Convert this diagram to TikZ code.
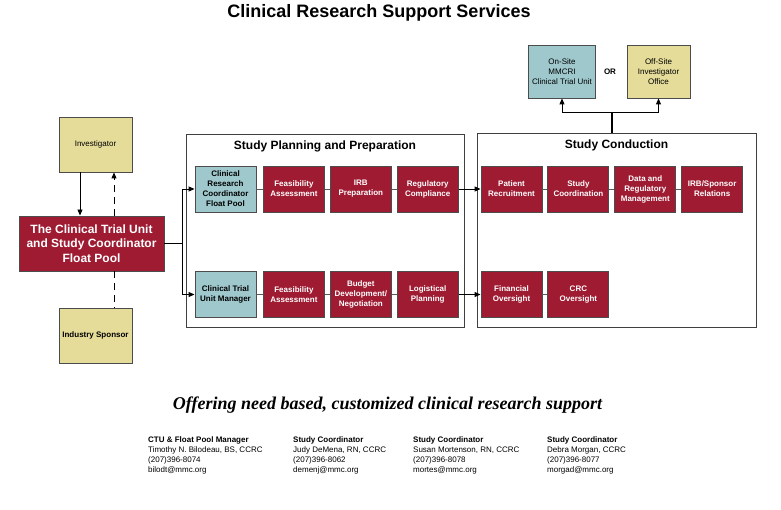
\documentclass[tikz,border=0pt]{standalone}
\usepackage{fontspec}
\setmainfont{Liberation Sans}
\newfontfamily\slogan{Liberation Serif}
\usetikzlibrary{positioning,arrows.meta}
\definecolor{crimson}{RGB}{158,27,50}
\definecolor{ctuteal}{RGB}{158,200,204}
\definecolor{sand}{RGB}{229,220,153}
\begin{document}
\begin{tikzpicture}[x=1pt,y=-1pt,
  task/.style={rectangle,draw=black!70,line width=0.9pt,fill=crimson,text=white,
    font=\fontsize{8}{10}\selectfont\bfseries,align=center,
    minimum width=61pt,minimum height=46pt,inner sep=1pt},
  lead/.style={task,fill=ctuteal,text=black},
  party/.style={rectangle,draw=black!70,line width=0.9pt,fill=sand,align=center,
    minimum width=73pt,minimum height=55pt,font=\fontsize{8}{10}\selectfont},
  site/.style={party,minimum width=66pt,minimum height=53pt},
  frame/.style={rectangle,draw=black!75,line width=0.9pt},
  head/.style={font=\fontsize{12}{14}\selectfont\bfseries},
  link/.style={draw=black!65,line width=0.9pt},
  arr/.style={-{Triangle[length=6pt,width=5pt]},line width=0.9pt},
  contact/.style={align=left,anchor=north west,inner sep=0pt,
    font=\fontsize{8}{9.7}\selectfont},
  node distance=5pt
]
  \useasboundingbox (0,0) rectangle (781,510);

  \node[font=\fontsize{18}{20}\selectfont\bfseries] (title) at (379,13) {Clinical Research Support Services};

  \node[party] (inv) at (95.5,144.5) {Investigator};
  \node[rectangle,draw=black!70,line width=0.9pt,fill=crimson,text=white,align=center,
    minimum width=145pt,minimum height=55pt,
    font=\fontsize{12}{14.5}\selectfont\bfseries] (ctu) at (91.5,243.5)
    {The Clinical Trial Unit\\and Study Coordinator\\Float Pool};
  \node[party,font=\fontsize{8}{10}\selectfont\bfseries] (spon) at (95.5,335.5) {Industry Sponsor};

  \node[frame,minimum width=278pt,minimum height=193pt] (plan) at (325,230.5) {};
  \node[head,below=4pt of plan.north] (planhead) {Study Planning and Preparation};
  \node[frame,minimum width=279pt,minimum height=194pt] (cond) at (616.5,230) {};
  \node[head,below=4pt of cond.north] (condhead) {Study Conduction};

  \node[lead] (crc) at (225.5,189) {Clinical\\Research\\Coordinator\\Float Pool};
  \node[task,right=6.5pt of crc] (feasa) {Feasibility\\Assessment};
  \node[task,right=of feasa] (irb) {IRB\\Preparation};
  \node[task,right=of irb] (reg) {Regulatory\\Compliance};

  \node[lead] (mgr) at (225.5,294.5) {Clinical Trial\\Unit Manager};
  \node[task,right=6.5pt of mgr] (feasb) {Feasibility\\Assessment};
  \node[task,right=of feasb] (budget) {Budget\\Development/\\Negotiation};
  \node[task,right=of budget] (logi) {Logistical\\Planning};

  \node[task] (pat) at (511.5,189) {Patient\\Recruitment};
  \node[task,right=of pat] (coord) {Study\\Coordination};
  \node[task,right=of coord] (data) {Data and\\Regulatory\\Management};
  \node[task,right=of data] (irbsp) {IRB/Sponsor\\Relations};

  \node[task] (fin) at (511.5,294.5) {Financial\\Oversight};
  \node[task,right=of fin] (crco) {CRC\\Oversight};

  \node[site,fill=ctuteal] (onsite) at (562,71.5) {On-Site\\MMCRI\\Clinical Trial Unit};
  \node[site,minimum width=63pt] (offsite) at (658.5,71.5) {Off-Site\\Investigator\\Office};
  \node[font=\fontsize{8}{10}\selectfont\bfseries] (or) at (610,72) {OR};

  \coordinate (split) at (182,243.5);
  \coordinate (fork) at (612,112);

  \draw[arr] (inv.south -| 80,0) -- (ctu.north -| 80,0);
  \draw[arr,dash pattern=on 7pt off 5pt] (ctu.north -| 114,0) -- (inv.south -| 114,0);
  \draw[line width=0.9pt,dash pattern=on 7pt off 5pt] (ctu.south -| 114,0) -- (spon.north -| 114,0);

  \draw[line width=0.9pt] (ctu.east) -- (split);
  \draw[arr] (split) |- (crc.west);
  \draw[arr] (split) |- (mgr.west);

  \draw[link] (crc) -- (feasa) -- (irb) -- (reg);
  \draw[link] (mgr) -- (feasb) -- (budget) -- (logi);
  \draw[link] (pat) -- (coord) -- (data) -- (irbsp);
  \draw[link] (fin) -- (crco);
  \draw[arr] (reg) -- (pat);
  \draw[arr] (logi) -- (fin);

  \draw[line width=1.2pt] (fork |- cond.north) -- (fork);
  \draw[arr] (fork) -| (onsite.south);
  \draw[arr] (fork) -| (offsite.south);

  \node[font=\slogan\fontsize{18}{20}\selectfont\bfseries\itshape] (motto) at (387.5,405)
    {Offering need based, customized clinical research support};

  \node[contact] (mgrc) at (148,437) {\textbf{CTU \& Float Pool Manager}\\Timothy N. Bilodeau, BS, CCRC\\(207)396-8074\\bilodt@mmc.org};
  \node[contact] (demc) at (293,437) {\textbf{Study Coordinator}\\Judy DeMena, RN, CCRC\\(207)396-8062\\demenj@mmc.org};
  \node[contact] (morc) at (413,437) {\textbf{Study Coordinator}\\Susan Mortenson, RN, CCRC\\(207)396-8078\\mortes@mmc.org};
  \node[contact] (mgdc) at (547,437) {\textbf{Study Coordinator}\\Debra Morgan, CCRC\\(207)396-8077\\morgad@mmc.org};
\end{tikzpicture}
\end{document}
